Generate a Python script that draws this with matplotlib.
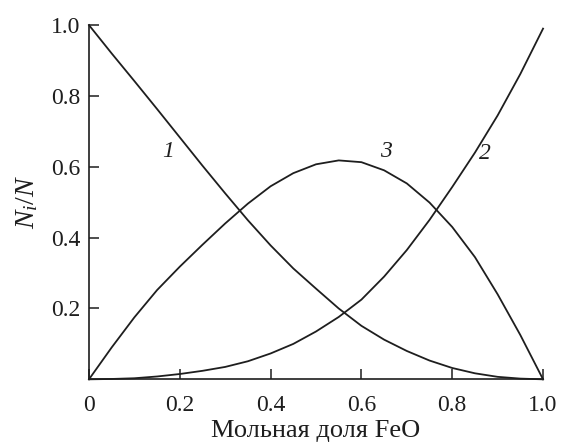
import matplotlib
matplotlib.use("Agg")
import matplotlib.pyplot as plt

plt.rcParams['font.family'] = ['Liberation Serif', 'DejaVu Serif']
plt.rcParams['mathtext.fontset'] = 'custom'
plt.rcParams['mathtext.rm'] = 'Liberation Serif'
plt.rcParams['mathtext.it'] = 'Liberation Serif:italic'

# values, every 0.05 of the mole fraction
x = [0.0, 0.05, 0.1, 0.15, 0.2, 0.25, 0.3, 0.35, 0.4, 0.45, 0.5,
     0.55, 0.6, 0.65, 0.7, 0.75, 0.8, 0.85, 0.9, 0.95, 1.0]
# curve 1
y1 = [1.0, 0.92, 0.842, 0.763, 0.683, 0.603, 0.525, 0.449, 0.378, 0.313, 0.256,
      0.2, 0.151, 0.112, 0.08, 0.053, 0.032, 0.017, 0.007, 0.002, 0.0]
# curve 2
y2 = [0.0, 0.001, 0.003, 0.008, 0.015, 0.024, 0.035, 0.051, 0.073, 0.1, 0.135,
      0.176, 0.225, 0.29, 0.365, 0.45, 0.543, 0.64, 0.745, 0.862, 0.99]
# curve 3
y3 = [0.0, 0.09, 0.175, 0.252, 0.318, 0.38, 0.44, 0.496, 0.545, 0.582, 0.607,
      0.618, 0.613, 0.59, 0.553, 0.499, 0.43, 0.345, 0.24, 0.125, 0.0]

labels = ['1', '2', '3']
label_pos = [(0.174, 0.642), (0.872, 0.638), (0.655, 0.642)]

xticks = [0, 0.2, 0.4, 0.6, 0.8, 1.0]
xticklabels = ['0', '0.2', '0.4', '0.6', '0.8', '1.0']
yticks = [0.2, 0.4, 0.6, 0.8, 1.0]
yticklabels = ['0.2', '0.4', '0.6', '0.8', '1.0']

fig = plt.figure(figsize=(5.61, 4.48), dpi=100)
ax = fig.add_axes([0.1586, 0.1533, 0.8094, 0.7907])

for ys in [y1, y2, y3]:
    ax.plot(x, ys, color='#1e1e1e', lw=1.3, clip_on=False, solid_joinstyle='round')

for lab, (lx, ly) in zip(labels, label_pos):
    ax.text(lx, ly, lab, fontsize=17, style='italic', ha='center', va='center', color='#1e1e1e')

ax.set_xlim(0, 1)
ax.set_ylim(0, 1)
ax.set_xticks(xticks)
ax.set_xticklabels(xticklabels)
ax.set_yticks(yticks)
ax.set_yticklabels(yticklabels)
ax.tick_params(direction='in', length=7, width=1.1, labelsize=17, colors='#1e1e1e')
ax.tick_params(axis='x', pad=11)
ax.tick_params(axis='y', pad=6)
ax.spines['top'].set_visible(False)
ax.spines['right'].set_visible(False)
for s in ['left', 'bottom']:
    ax.spines[s].set_linewidth(1.2)
    ax.spines[s].set_color('#1e1e1e')

ax.set_xlabel('Мольная доля FeO', fontsize=19, color='#1e1e1e', labelpad=3)
ax.set_ylabel('$N_i/N$', fontsize=20, color='#1e1e1e', labelpad=8)

fig.savefig('out.png', dpi=100)
